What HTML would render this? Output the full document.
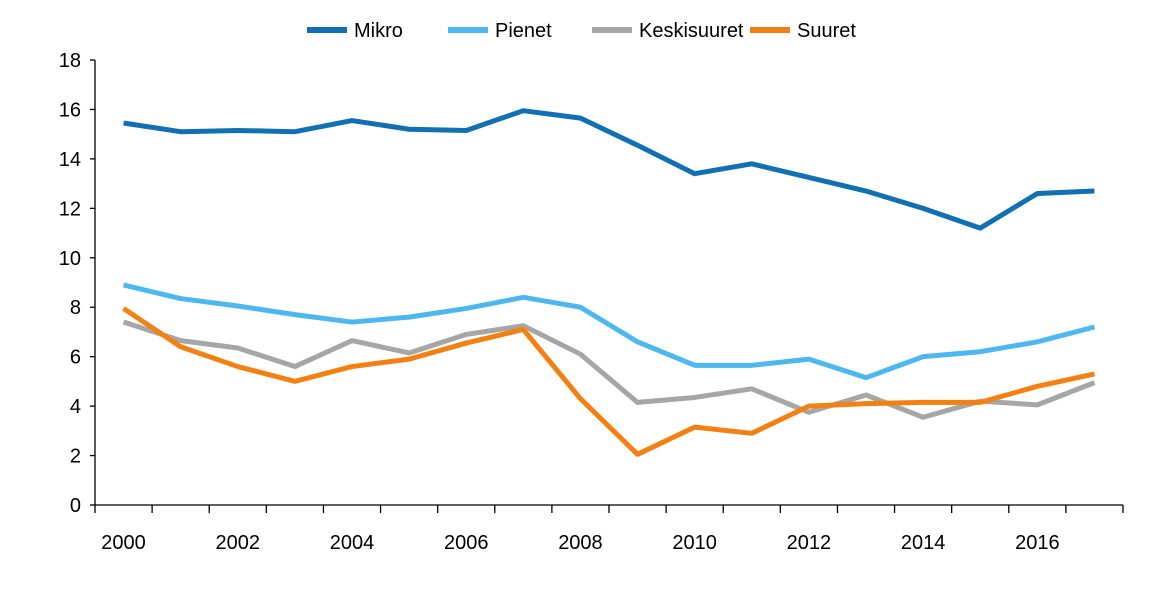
<!DOCTYPE html>
<html><head><meta charset="utf-8"><style>
body{margin:0;background:#fff;}
svg text{font-family:"Liberation Sans",sans-serif;fill:#000;}
</style></head><body>
<svg id="chart" width="1169" height="585">
<g id="axes"></g><g id="lines"></g><g id="legend"></g>
</svg>
<script>
const years=[2000,2001,2002,2003,2004,2005,2006,2007,2008,2009,2010,2011,2012,2013,2014,2015,2016,2017];
const seriesNames=["Mikro","Pienet","Keskisuuret","Suuret"];
const mikro=[15.45,15.1,15.15,15.1,15.55,15.2,15.15,15.95,15.65,14.55,13.4,13.8,13.25,12.7,12.0,11.2,12.6,12.7];
const pienet=[8.9,8.35,8.05,7.7,7.4,7.6,7.95,8.4,8.0,6.6,5.65,5.65,5.9,5.15,6.0,6.2,6.6,7.2];
const keskisuuret=[7.4,6.65,6.35,5.6,6.65,6.15,6.9,7.25,6.1,4.15,4.35,4.7,3.75,4.45,3.55,4.2,4.05,4.95];
const suuret=[7.95,6.4,5.6,5.0,5.6,5.9,6.55,7.1,4.3,2.05,3.15,2.9,4.0,4.1,4.15,4.15,4.8,5.3];
const yTicks=[0,2,4,6,8,10,12,14,16,18];
const xLabels=["2000","2002","2004","2006","2008","2010","2012","2014","2016"];
const colors=["#1170b3","#4db8ef","#a6a6a6","#f58012"];
const NS="http://www.w3.org/2000/svg";
const X0=95,X1=1123,Y0=505,Y1=60,yMax=18;
const band=(X1-X0)/years.length;
const x=i=>X0+band*(i+0.5);
const y=v=>Y0-(v/yMax)*(Y0-Y1);
function mk(t,a,p){const e=document.createElementNS(NS,t);for(const k in a)e.setAttribute(k,a[k]);p.appendChild(e);return e;}
const ax=document.getElementById('axes');
let e=mk('line',{x1:X0,y1:Y1,x2:X0,y2:Y0,stroke:'#000','stroke-width':1.3},ax);


e=mk('line',{x1:X0,y1:Y0,x2:X1,y2:Y0,stroke:'#000','stroke-width':1.3},ax);


yTicks.forEach(v=>{
 mk('line',{x1:X0-5,y1:y(v),x2:X0,y2:y(v),stroke:'#000','stroke-width':1.3},ax);
 const t=mk('text',{x:X0-14,y:y(v)+7,'text-anchor':'end','font-size':20},ax);
 t.textContent=v;
 
 
});
for(let i=0;i<=years.length;i++){mk('line',{x1:X0+band*i,y1:Y0,x2:X0+band*i,y2:Y0+8,stroke:'#000','stroke-width':1.3},ax);}
xLabels.forEach((l,j)=>{
 const i=years.indexOf(+l);
 const t=mk('text',{x:x(i),y:549,'text-anchor':'middle','font-size':20},ax);
 t.textContent=l;
 
 
});
const data=[mikro,pienet,keskisuuret,suuret];
const lg=document.getElementById('lines');
[2,3,1,0].forEach(s=>{
 const p=mk('polyline',{points:data[s].map((v,i)=>x(i)+','+y(v)).join(' '),fill:'none',stroke:colors[s],'stroke-width':5,'stroke-linejoin':'round'},lg);
 
 
});
const leg=document.getElementById('legend');
const lx=[307,448,592,750];
seriesNames.forEach((n,s)=>{
 const g=mk('g',{},leg);
 
 
 mk('line',{x1:lx[s],y1:30,x2:lx[s]+40,y2:30,stroke:colors[s],'stroke-width':6},g);
 const t=mk('text',{x:lx[s]+47,y:37,'font-size':20},g);
 t.textContent=n;
});
</script>
</body></html>
